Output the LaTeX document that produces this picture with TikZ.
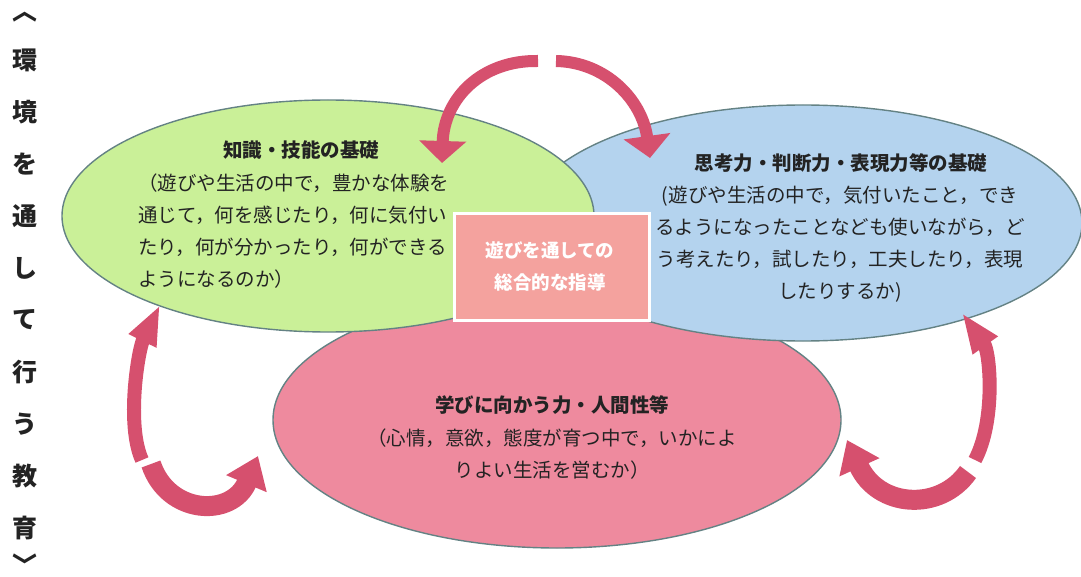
\documentclass[tikz,border=0pt]{standalone}
\usepackage{fontspec}
\newfontfamily\jp{Noto Sans CJK JP}
\usetikzlibrary{arrows.meta,shapes.geometric}

\definecolor{leafgreen}{RGB}{202,240,152}
\definecolor{skyblue}{RGB}{180,211,238}
\definecolor{rosepink}{RGB}{238,138,158}
\definecolor{salmonbox}{RGB}{244,162,158}
\definecolor{rimgray}{RGB}{100,130,132}
\definecolor{arrowred}{RGB}{214,80,110}
\definecolor{inkgray}{RGB}{35,35,35}

\tikzset{
  bubble/.style={ellipse,draw=rimgray,line width=1.4pt,inner sep=0pt},
  headline/.style={font=\jp\bfseries\fontsize{19.5}{32}\selectfont,text=inkgray,inner sep=0pt},
  bodytext/.style={font=\jp\fontsize{19.5}{32}\selectfont,text=inkgray,inner sep=0pt},
  sidechar/.style={font=\jp\bfseries\fontsize{25}{25}\selectfont,text=inkgray,inner sep=0pt},
  cyclearrow/.style={draw=arrowred,line width=#1},
  thinhead/.style={-{Triangle[width=28pt,length=40pt]}},
  widehead/.style={-{Triangle[width=46pt,length=22pt]}},
}

\begin{document}
\begin{tikzpicture}[x=1pt,y=-1pt]
\useasboundingbox (0,0) rectangle (1081,577);

% the three circles
\node at (557,420)[bubble,fill=rosepink,minimum width=568pt,minimum height=256pt](manabi){};
\node at (803,223)[bubble,fill=skyblue,minimum width=558pt,minimum height=236pt](shiko){};
\node at (328,216)[bubble,fill=leafgreen,minimum width=532pt,minimum height=232pt](chishiki){};
\node at (552,267)[rectangle,fill=salmonbox,draw=white,line width=3.5pt,minimum width=195pt,minimum height=107pt](shido){};

% texts
\node at (301,150)[headline](chishikiT){知識・技能の基礎};
\node at (138,231)[bodytext,anchor=west,align=left](chishikiB){（遊びや生活の中で，豊かな体験を\\通じて，何を感じたり，何に気付い\\たり，何が分かったり，何ができる\\ようになるのか）};
\node at (841,163)[headline](shikoT){思考力・判断力・表現力等の基礎};
\node at (840,244)[bodytext,align=center](shikoB){(遊びや生活の中で，気付いたこと，でき\\るようになったことなども使いながら，ど\\う考えたり，試したり，工夫したり，表現\\したりするか)};
\node at (552,405)[headline](manabiT){学びに向かう力・人間性等};
\node at (552,454)[bodytext,align=center](manabiB){（心情，意欲，態度が育つ中で，いかによ\\りよい生活を営むか）};
\node at (550,266)[headline,text=white,font=\jp\bfseries\fontsize{18.5}{32}\selectfont,align=center](shidoT){遊びを通しての\\総合的な指導};

% side title
\node at (25,17)[sidechar](vtop){︿};
\foreach \c [count=\i] in {環,境,を,通,し,て,行,う,教,育}
  \node at (25,8+52*\i)[sidechar](v\i){\c};
\node at (25,564)[sidechar](vbot){﹀};

% arrows
\coordinate (apexL) at (538,61);
\coordinate (apexR) at (556,61);
\coordinate (tipG) at (442,163);
\coordinate (tipS) at (650,158);
\draw[cyclearrow=12pt,widehead] (apexL) .. controls (482,60) and (444,98) .. (tipG);
\draw[cyclearrow=12pt,widehead] (apexR) .. controls (606,62) and (642,100) .. (tipS);

\coordinate (lowL) at (142,460);
\coordinate (tipGL) at (160,305);
\coordinate (lowL2) at (151,464);
\coordinate (tipML) at (258,456);
\draw[cyclearrow=14pt,thinhead] (lowL) .. controls (126,425) and (138,350) .. (tipGL);
\draw[cyclearrow=20pt,-{Triangle[width=42pt,length=30pt]}] (lowL2) .. controls (168,515) and (232,518) .. (tipML);

\coordinate (lowR) at (975,460);
\coordinate (tipSR) at (962,313);
\coordinate (lowR2) at (968,472);
\coordinate (tipMR) at (847,440);
\draw[cyclearrow=14pt,thinhead] (lowR) .. controls (996,420) and (990,352) .. (tipSR);
\draw[cyclearrow=20pt,-{Triangle[width=42pt,length=30pt]}] (lowR2) .. controls (940,512) and (878,508) .. (tipMR);
\end{tikzpicture}
\end{document}
